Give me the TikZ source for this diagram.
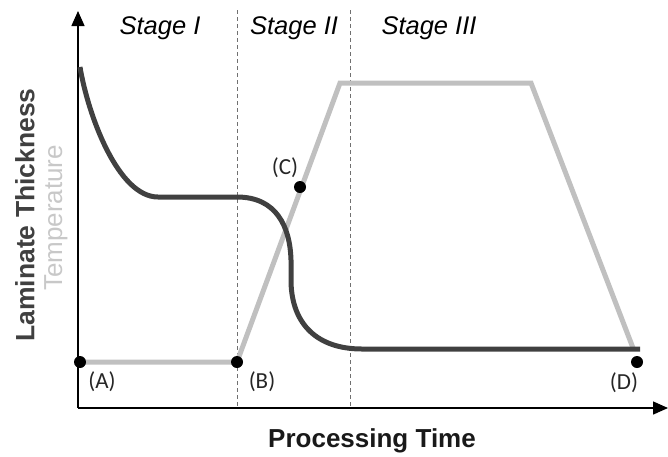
\documentclass[tikz,border=0pt]{standalone}
\usepackage{fontspec}
\setmainfont{Liberation Sans}
\newfontfamily\calib{Carlito}
\usetikzlibrary{arrows.meta}
\definecolor{darkc}{HTML}{404040}
\definecolor{lightc}{HTML}{C0C0C0}
\definecolor{templab}{HTML}{C8C8C8}
\definecolor{dashc}{HTML}{707070}
\tikzset{
  axis/.style={line width=1.4pt, black, -{Triangle[length=15pt,width=13pt]}},
  divider/.style={line width=0.9pt, dashc, dash pattern=on 4pt off 3pt},
  thick curve/.style={line width=5pt, darkc},
  temp curve/.style={line width=5pt, lightc},
  dot/.style={circle, fill=black, inner sep=0pt, minimum size=12pt},
  ptlabel/.style={font=\calib\fontsize{23}{25}\selectfont, text=black!85},
  stagelabel/.style={font=\itshape\fontsize{25.5}{28}\selectfont},
}
\begin{document}
\begin{tikzpicture}[x=1pt,y=-1pt]
\useasboundingbox (0,0) rectangle (668,456);
% dividers
\coordinate (d1t) at (237,10); \coordinate (d1b) at (237,408);
\coordinate (d2t) at (350,10); \coordinate (d2b) at (350,408);
\draw[divider] (d1t) -- (d1b);
\draw[divider] (d2t) -- (d2b);
% axes
\coordinate (O) at (78,408);
\coordinate (ytip) at (78,11);
\coordinate (xtip) at (668,408);
\draw[axis] (O) -- (ytip);
\draw[axis] (O) -- (xtip);
% stage labels
\node[stagelabel] (s1) at (160,28) {Stage I};
\node[stagelabel] (s2) at (294,28) {Stage II};
\node[stagelabel] (s3) at (429,28) {Stage III};
% temperature curve
\coordinate (T0) at (80,362);
\coordinate (T1) at (237,362);
\coordinate (T2) at (340,83);
\coordinate (T3) at (531,83);
\coordinate (T4) at (633,348);
\draw[temp curve, line join=miter] (T0) -- (T1) -- (T2) -- (T3) -- (T4);
% thickness curve
\coordinate (L0) at (80,67);
\coordinate (L1) at (158,197);
\coordinate (L2) at (237,197);
\coordinate (L3) at (291,260);
\coordinate (L4) at (291,282);
\coordinate (L5) at (362,349);
\coordinate (L6) at (640,349);
\draw[thick curve] (L0) .. controls (88,115) and (118,197) .. (L1) -- (L2)
  .. controls (276,197) and (290,226) .. (L3) -- (L4)
  .. controls (292,325) and (318,349) .. (L5) -- (L6);
% dots
\node[dot] (A) at (80,362) {};
\node[dot] (B) at (237,362) {};
\node[dot] (C) at (300,187) {};
\node[dot] (D) at (637,362) {};
\node[ptlabel] (Al) at (102,382) {(A)};
\node[ptlabel] (Bl) at (262,382) {(B)};
\node[ptlabel] (Cl) at (285,168) {(C)};
\node[ptlabel] (Dl) at (624,383) {(D)};
% axis labels
\node[rotate=90, font=\bfseries\fontsize{26.5}{28}\selectfont, text=darkc] (ylab) at (25,215) {Laminate Thickness};
\node[rotate=90, font=\fontsize{26}{28}\selectfont, text=templab] (ylab2) at (56,218) {Temperature};
\node[font=\bfseries\fontsize{26}{28}\selectfont, text=black!90] (xlab) at (372,441) {Processing Time};
\end{tikzpicture}
\end{document}
